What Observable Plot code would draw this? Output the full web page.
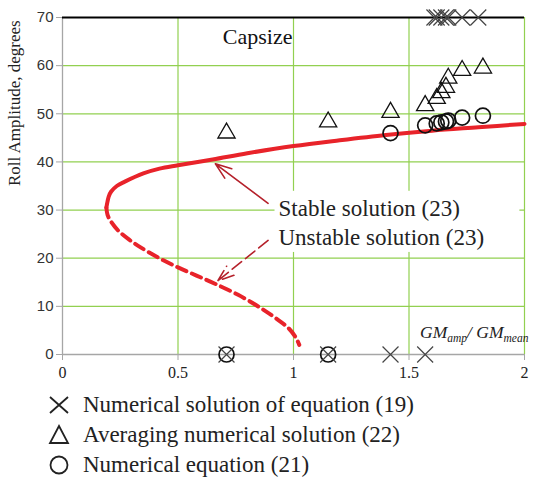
<!DOCTYPE html>
<html><head><meta charset="utf-8">
<script src="https://cdn.jsdelivr.net/npm/d3@7"></script>
<script src="https://cdn.jsdelivr.net/npm/@observablehq/plot@0.6"></script>
<style>
body{margin:0;background:#fff;}
#chart svg{display:block;}
#legend{font-family:"Liberation Serif",serif;font-size:23px;color:#222;margin-left:48px;}
.row{display:flex;align-items:center;height:30px;}
.row svg{margin-right:13px;overflow:visible;}
</style></head><body>
<div id="chart"></div>
<div id="legend"></div>
<script>
const xTicks = [0, 0.5, 1, 1.5, 2];
const xTickLabels = ["0", "0.5", "1", "1.5", "2"];
const yTicks = [0, 10, 20, 30, 40, 50, 60, 70];
const capsizeLevel = 70;

// Stable solution (23), solid
const stableX = [0.19, 0.195, 0.2, 0.21, 0.235, 0.27, 0.35, 0.42, 0.5, 0.65, 0.8, 1.0, 1.2, 1.4, 1.6, 1.8, 2.0];
const stableY = [30.5, 31.8, 32.8, 33.8, 35, 35.9, 37.6, 38.6, 39.3, 40.5, 41.8, 43.3, 44.5, 45.6, 46.5, 47.2, 47.9];
// Unstable solution (23), dashed
const unstableX = [0.19, 0.195, 0.21, 0.24, 0.29, 0.34, 0.42, 0.5, 0.58, 0.66, 0.76, 0.86, 0.93, 0.98, 1.01, 1.025];
const unstableY = [30.5, 29, 27.6, 25.8, 23.8, 22.2, 20, 18.1, 16.4, 14.7, 12.4, 9.6, 7.3, 5.4, 3.5, 2];

// Numerical solution of equation (19)
const crossX = [0.71, 1.15, 1.42, 1.57, 1.61, 1.62, 1.64, 1.66, 1.67, 1.73, 1.8];
const crossY = [0, 0, 0, 0, 70, 70, 70, 70, 70, 70, 70];
// Averaging numerical solution (22)
const triX = [0.71, 1.15, 1.42, 1.57, 1.62, 1.64, 1.66, 1.67, 1.73, 1.82];
const triY = [46, 48.3, 50.3, 51.7, 53.2, 54.4, 55.5, 57.4, 59, 59.5];
// Numerical equation (21)
const circX = [0.71, 1.15, 1.42, 1.57, 1.62, 1.64, 1.66, 1.67, 1.73, 1.82];
const circY = [0, 0, 46, 47.6, 48, 48.2, 48.4, 48.6, 49.2, 49.6];

const legendLabels = ["Numerical solution of equation (19)", "Averaging numerical solution (22)", "Numerical equation (21)"];
const legendSymbols = ["times", "triangle", "circle"];

const notes = [
  {text: "Stable solution (23)", x: 0.935, y: 30.4},
  {text: "Unstable solution (23)", x: 0.935, y: 24.3}
];
const noteBox = [{x1: 0.92, x2: 1.98, y1: 21.2, y2: 33.9}];
const arrowsSolid = [{x1: 0.89, y1: 31.4, x2: 0.662, y2: 39.6}];
const arrowsDashed = [{x1: 0.89, y1: 23.7, x2: 0.672, y2: 15.3}];
const capsizeNote = [{text: "Capsize", x: 0.845, y: 66}];
const axisTitle = {sub1: "amp", sub2: "mean", x: 1.55, y: 3.3};

const green = "#92d050";
const red = "#e8232a";
const darkRed = "#b5212b";
const serif = "Liberation Serif, serif";
const sans = "Liberation Sans, Arial, sans-serif";

const idx = a => d3.range(a.length);

const plot = Plot.plot({
  width: 550, height: 390,
  marginLeft: 62, marginRight: 26, marginTop: 17, marginBottom: 36,
  x: {domain: [0, 2]},
  y: {domain: [0, 70]},
  marks: [
    Plot.ruleY(yTicks.filter(d => d > 0 && d < 70), {stroke: green, strokeWidth: 1.2}),
    Plot.ruleX(xTicks.filter(d => d > 0), {stroke: green, strokeWidth: 1.2}),
    Plot.rect(noteBox, {x1: "x1", x2: "x2", y1: "y1", y2: "y2", fill: "white"}),
    Plot.ruleX([0], {stroke: "#a6a6a6", strokeWidth: 1.3}),
    Plot.ruleY([0], {stroke: "#a6a6a6", strokeWidth: 1.3}),
    Plot.ruleY([capsizeLevel], {stroke: "#000", strokeWidth: 2.2}),
    Plot.axisY({ticks: yTicks, tickSize: 6, tickPadding: 3, stroke: "#a6a6a6", fill: "#333", fontSize: 15, fontFamily: sans, label: null}),
    Plot.axisX({ticks: xTicks, tickFormat: (d, i) => xTickLabels[i], tickSize: 6, tickPadding: 6, stroke: "#a6a6a6", fill: "#222", fontSize: 16, fontFamily: serif, label: null}),
    Plot.text(["Roll Amplitude, degrees"], {frameAnchor: "left", rotate: -90, dx: -48, fontSize: 17, fontFamily: serif, fill: "#222"}),
    Plot.line(idx(unstableX), {x: i => unstableX[i], y: i => unstableY[i], stroke: red, strokeWidth: 4, strokeDasharray: "10,6", curve: "catmull-rom"}),
    Plot.line(idx(stableX), {x: i => stableX[i], y: i => stableY[i], stroke: red, strokeWidth: 4, curve: "catmull-rom"}),
    Plot.arrow(arrowsSolid, {x1: "x1", y1: "y1", x2: "x2", y2: "y2", stroke: darkRed, strokeWidth: 1.6, headLength: 16, headAngle: 40}),
    Plot.arrow(arrowsDashed, {x1: "x1", y1: "y1", x2: "x2", y2: "y2", stroke: darkRed, strokeWidth: 1.6, headLength: 16, headAngle: 40, strokeDasharray: "12,5"}),
    Plot.text(notes, {x: "x", y: "y", text: "text", textAnchor: "start", fontSize: 23, fontFamily: serif, fill: "#222"}),
    Plot.text(capsizeNote, {x: "x", y: "y", text: "text", fontSize: 22, fontFamily: serif, fill: "#111"}),
    Plot.dot(idx(circX), {x: i => circX[i], y: i => circY[i], symbol: "circle", r: 7.5, stroke: "#111", strokeWidth: 1.7, fill: "none"}),
    Plot.dot(idx(triX), {x: i => triX[i], y: i => triY[i], symbol: "triangle", r: 6.4, stroke: "#111", strokeWidth: 1.3, fill: "none"}),
    Plot.dot(idx(crossX), {x: i => crossX[i], y: i => crossY[i], symbol: "times", r: 7.3, stroke: "#444", strokeWidth: 1.2})
  ]
});
document.getElementById("chart").appendChild(plot);

// x-axis title with subscripts, placed through the plot's scales
const sx = plot.scale("x"), sy = plot.scale("y");
const t = d3.select(plot).append("text")
  .attr("x", sx.apply(axisTitle.x)).attr("y", sy.apply(axisTitle.y))
  .attr("text-anchor", "start")
  .attr("font-family", serif).attr("font-style", "italic").attr("font-size", 17.5).attr("fill", "#222");
t.append("tspan").text("GM");
t.append("tspan").attr("font-size", 11.5).attr("dy", 4).text(axisTitle.sub1);
t.append("tspan").attr("dy", -4).text("/ GM");
t.append("tspan").attr("font-size", 11.5).attr("dy", 4).text(axisTitle.sub2);

// legend
const leg = d3.select("#legend");
legendLabels.forEach((lab, i) => {
  const row = leg.append("div").attr("class", "row");
  const s = row.append("svg").attr("width", 22).attr("height", 22).attr("viewBox", "-11 -11 22 22");
  const sym = legendSymbols[i];
  if (sym === "times") s.append("path").attr("d", "M-9,-8L9,8M-9,8L9,-8").attr("stroke", "#222").attr("stroke-width", 1.8);
  else if (sym === "triangle") s.append("path").attr("d", "M0,-9L9,8L-9,8Z").attr("stroke", "#222").attr("stroke-width", 1.8).attr("fill", "none");
  else s.append("circle").attr("r", 8.5).attr("stroke", "#222").attr("stroke-width", 1.8).attr("fill", "none");
  row.append("span").text(lab);
});
</script>
</body></html>
